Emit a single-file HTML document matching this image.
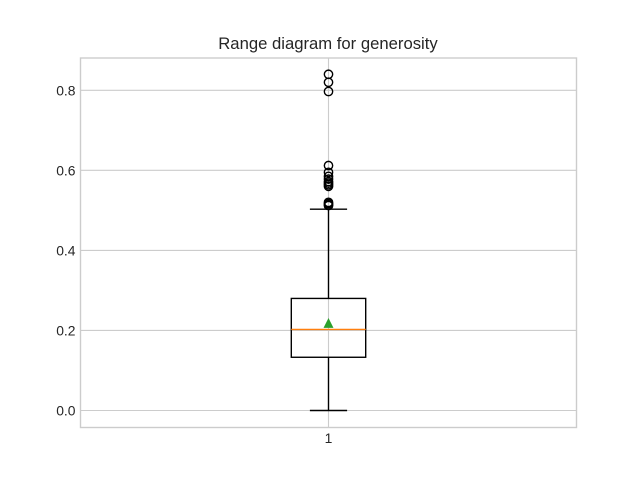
<!DOCTYPE html>
<html>
<head>
<meta charset="utf-8">
<title>Range diagram for generosity</title>
<style>
html,body{margin:0;padding:0;background:#fff;width:640px;height:480px;overflow:hidden}
svg{display:block}
text{font-family:"Liberation Sans",Arial,sans-serif;fill:#262626}
</style>
</head>
<body>
<svg id="chart" xmlns="http://www.w3.org/2000/svg" width="640" height="480" viewBox="0 0 640 480">
  <text x="328" y="49" text-anchor="middle" font-size="16.67" style="fill:#262626">Range diagram for generosity</text>
</svg>
<script>
var categories = ['1'];
var yTickValues = [0, 0.2, 0.4, 0.6, 0.8];
var yTickLabels = ['0.0', '0.2', '0.4', '0.6', '0.8'];
var boxQ1 = [0.133];
var boxQ3 = [0.28];
var boxMedian = [0.2025];
var boxMean = [0.218];
var whiskerLow = [0];
var whiskerHigh = [0.503];
var fliers = [[0.84, 0.82, 0.797, 0.612, 0.595, 0.585, 0.578, 0.572, 0.568, 0.564, 0.56, 0.52, 0.517, 0.514, 0.512]];

var svg = document.getElementById('chart');
var NS = 'http://www.w3.org/2000/svg';
var plotLeft = 80.5, plotRight = 576.5, plotTop = 58, plotBottom = 427.5;
function xScale(v) { return plotLeft + (v - 0.5) * (plotRight - plotLeft); }
function yScale(v) { return 410.5 - v * 400.25; }
function make(tag, attrs) {
  var el = document.createElementNS(NS, tag);
  for (var k in attrs) el.setAttribute(k, attrs[k]);
  svg.appendChild(el);
  return el;
}
function line(x1, y1, x2, y2, color, width) {
  return make('line', {x1: x1, y1: y1, x2: x2, y2: y2, stroke: color, 'stroke-width': width});
}
var GRID = '#cccccc', BLACK = '#000000', LW = 1.39;

yTickValues.forEach(function (v, i) {
  var y = yScale(v);
  var g = line(plotLeft, y, plotRight, y, GRID, 1.11);
  
  
  var t = make('text', {x: 75.5, y: y + 5, 'text-anchor': 'end', 'font-size': 13.89});
  t.textContent = yTickLabels[i];
  
  
});

categories.forEach(function (c, i) {
  var pos = i + 1;
  var x = xScale(pos);
  var halfBox = 0.075 * (plotRight - plotLeft);
  var halfCap = 0.0375 * (plotRight - plotLeft);

  var vg = line(x, plotTop, x, plotBottom, GRID, 1.11);
  
  

  var label = make('text', {x: x, y: 443, 'text-anchor': 'middle', 'font-size': 13.89});
  label.textContent = c;
  
  

  var frame = make('rect', {x: plotLeft, y: plotTop, width: plotRight - plotLeft, height: plotBottom - plotTop, fill: 'none', stroke: GRID, 'stroke-width': 1.39});
  
  

  var wl = line(x, yScale(boxQ1[i]), x, yScale(whiskerLow[i]), BLACK, LW);
  
  

  var wh = line(x, yScale(boxQ3[i]), x, yScale(whiskerHigh[i]), BLACK, LW);
  
  

  var cl = line(x - halfCap, yScale(whiskerLow[i]), x + halfCap, yScale(whiskerLow[i]), BLACK, LW);
  
  

  var ch = line(x - halfCap, yScale(whiskerHigh[i]), x + halfCap, yScale(whiskerHigh[i]), BLACK, LW);
  
  

  var box = make('rect', {x: x - halfBox, y: yScale(boxQ3[i]), width: 2 * halfBox, height: yScale(boxQ1[i]) - yScale(boxQ3[i]), fill: 'none', stroke: BLACK, 'stroke-width': LW});
  
  

  var med = line(x - halfBox, yScale(boxMedian[i]), x + halfBox, yScale(boxMedian[i]), '#ff7f0e', LW);
  
  

  fliers[i].forEach(function (f) {
    var dot = make('circle', {cx: x, cy: yScale(f), r: 4.17, fill: 'none', stroke: BLACK, 'stroke-width': 1.39});
    
    
  });

  var my = yScale(boxMean[i]);
  var tri = make('polygon', {points: (x - 4.17) + ',' + (my + 4.17) + ' ' + (x + 4.17) + ',' + (my + 4.17) + ' ' + x + ',' + (my - 4.17), fill: '#2ca02c', stroke: '#2ca02c', 'stroke-width': 1});
  
  
});
</script>
</body>
</html>
